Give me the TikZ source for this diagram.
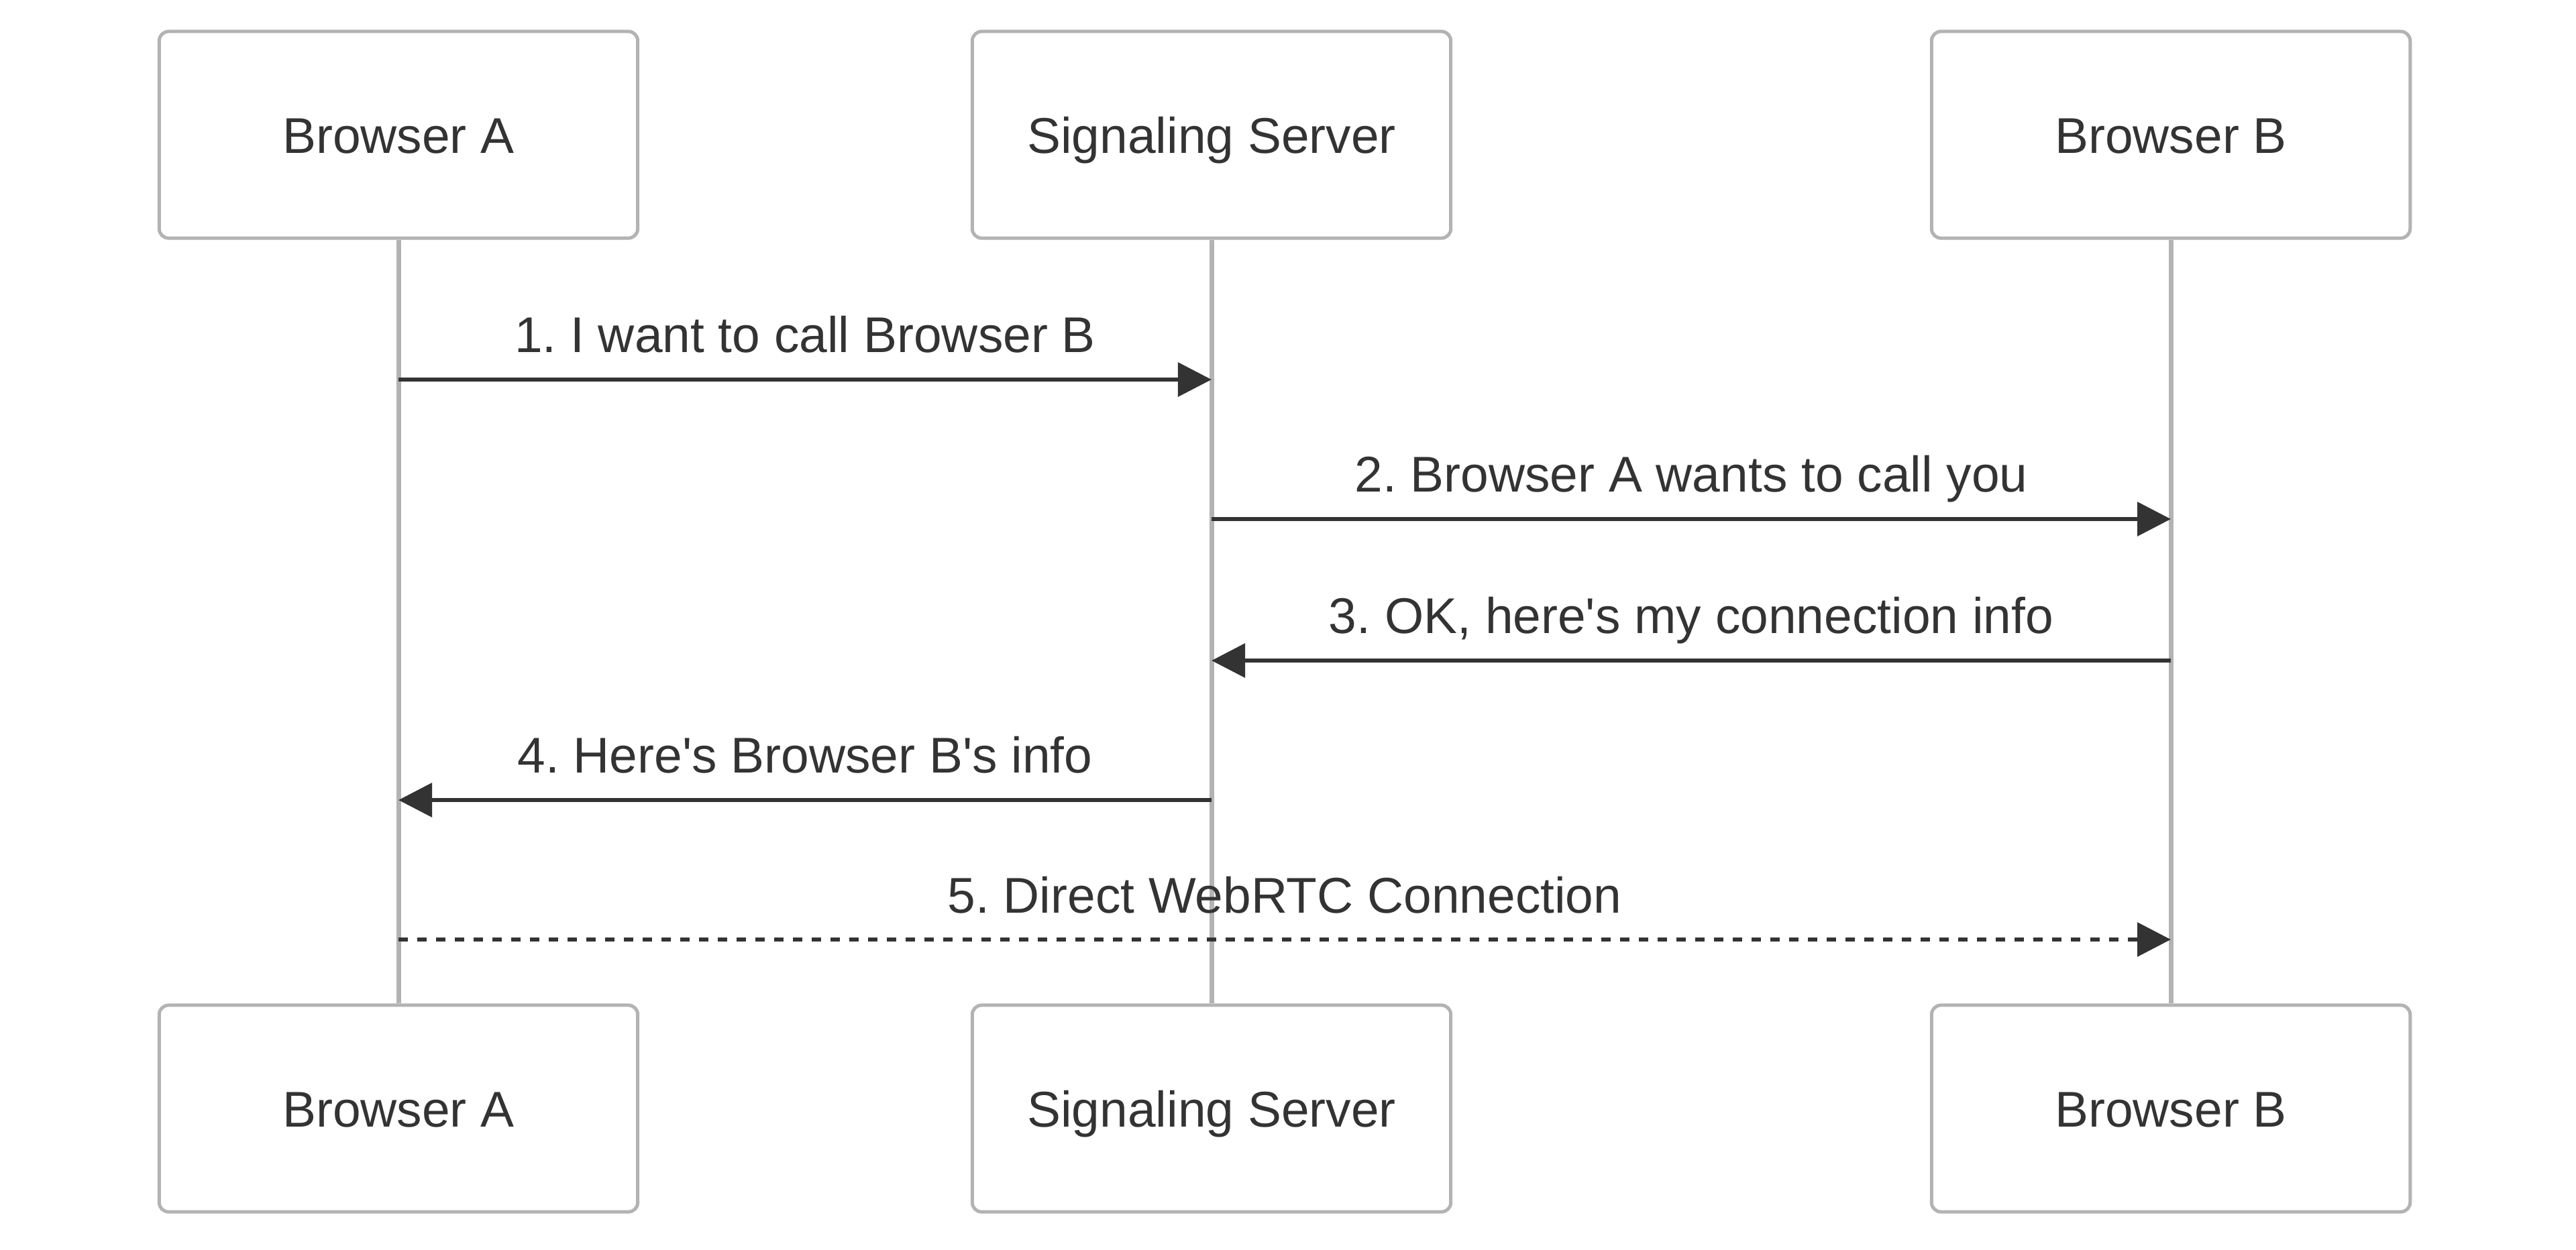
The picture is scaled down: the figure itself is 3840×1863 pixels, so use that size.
\documentclass[tikz,border=0pt]{standalone}
\usepackage{fontspec}
\setmainfont{Liberation Sans}
\usetikzlibrary{arrows.meta}

\definecolor{edgegray}{HTML}{B3B3B3}
\definecolor{inkgray}{HTML}{333333}

\begin{document}
\frenchspacing
\begin{tikzpicture}[
  x=0.01cm,y=-0.01cm,
  every node/.style={font=\fontsize{21.3}{25}\selectfont,text=inkgray},
  actor/.style={draw=edgegray,line width=0.05cm,fill=white,rounded corners=0.14cm,
                minimum width=7.13cm,minimum height=3.08cm,inner sep=0pt,
                text height=0.54cm,text depth=0pt},
  life/.style={draw=edgegray,line width=0.07cm},
  msg/.style={draw=inkgray,line width=0.065cm,-{Triangle[length=0.5cm,width=0.5cm]}},
  dsh/.style={msg,dash pattern=on 0.14cm off 0.14cm},
  lbl/.style={anchor=base,yshift=0.4cm,inner sep=0pt}
]
\useasboundingbox (0,0) rectangle (3840,1863);

%% Row 0: actors on top
\node[actor] (bA)  at (594,201)  {Browser A};
\node[actor] (srv) at (1806,201) {Signaling Server};
\node[actor] (bB)  at (3236,201) {Browser B};

%% Row 1: actors at the bottom
\node[actor] (bAf)  at (594,1653)  {Browser A};
\node[actor] (srvf) at (1806,1653) {Signaling Server};
\node[actor] (bBf)  at (3236,1653) {Browser B};

%% Lifelines
\draw[life] (bA.south)  -- (bAf.north);
\draw[life] (srv.south) -- (srvf.north);
\draw[life] (bB.south)  -- (bBf.north);

%% Message heights
\coordinate (y1) at (0,566);
\coordinate (y2) at (0,774);
\coordinate (y3) at (0,985);
\coordinate (y4) at (0,1193);
\coordinate (y5) at (0,1401);

%% Messages
\draw[msg] (bA |- y1)  -- node[lbl] (t1) {1. I want to call Browser B} (srv |- y1);
\draw[msg] (srv |- y2) -- node[lbl] (t2) {2. Browser A wants to call you} (bB |- y2);
\draw[msg] (bB |- y3)  -- node[lbl] (t3) {3. OK, here\textquotesingle s my connection info} (srv |- y3);
\draw[msg] (srv |- y4) -- node[lbl] (t4) {4. Here\textquotesingle s Browser B\textquotesingle s info} (bA |- y4);
\draw[dsh] (bA |- y5)  -- node[lbl] (t5) {5. Direct WebRTC Connection} (bB |- y5);

\end{tikzpicture}
\end{document}
